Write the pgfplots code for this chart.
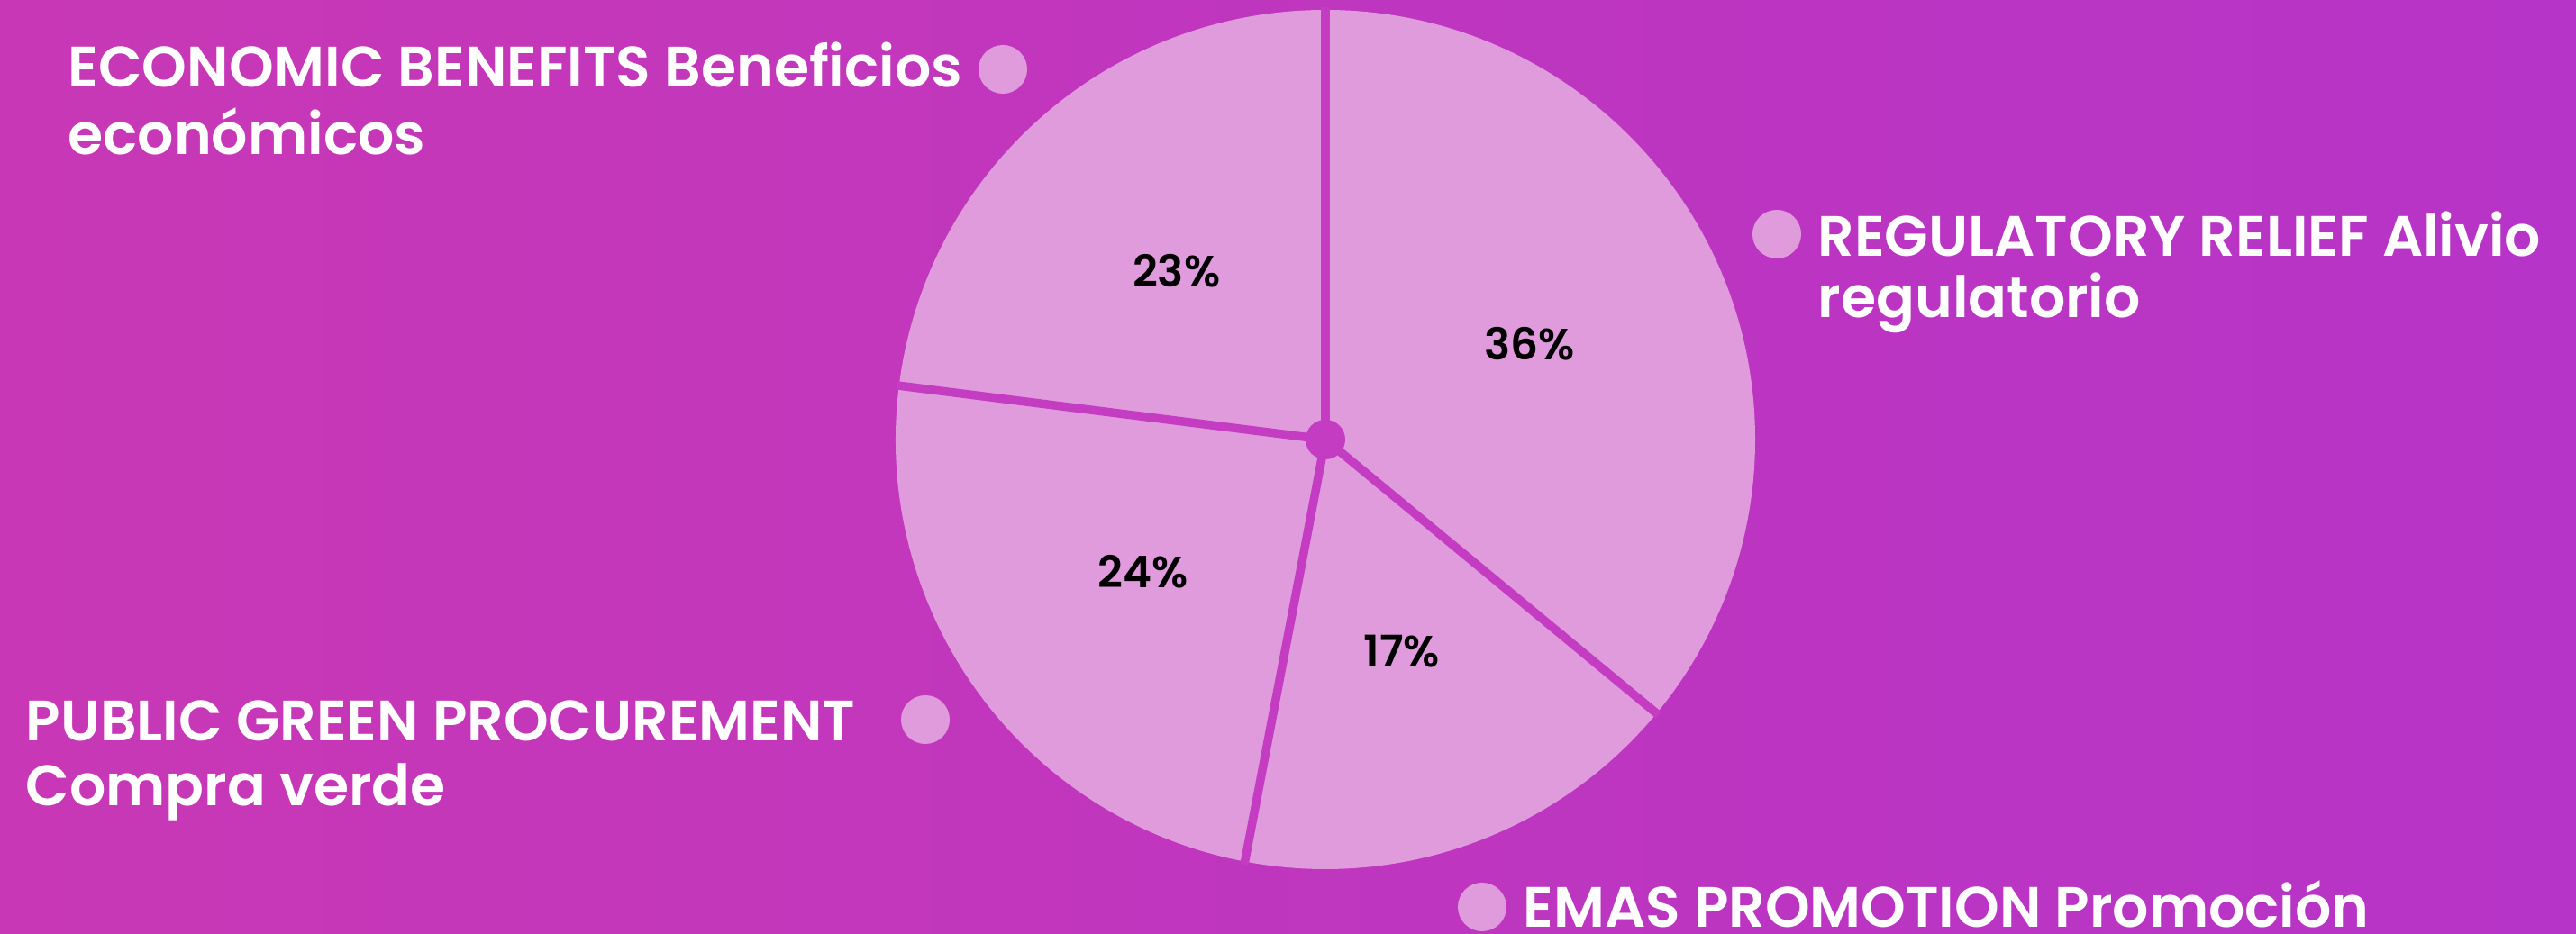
\documentclass[border=0pt]{standalone}
\usepackage{fontspec}
\setmainfont{Poppins SemiBold}
\usepackage{pgfplots}
\pgfplotsset{compat=1.18}
\usepackage{pgfplotstable}

\definecolor{bgL}{HTML}{C838B6}
\definecolor{bgR}{HTML}{B634C7}
\definecolor{slice}{HTML}{E09BDD}
\definecolor{sep}{HTML}{C33CC2}

% shares, clockwise from 12 o'clock
\pgfplotstableread{
share
36
17
24
23
}\piedata

\begin{document}
\begin{tikzpicture}
\begin{axis}[
    scale only axis,
    width=28.59cm, height=10.37cm,
    xmin=0, xmax=2859, ymin=0, ymax=1037,
    hide axis,
    clip=true,
]
% background
\fill[left color=bgL, right color=bgR] (axis cs:0,0) rectangle (axis cs:2859,1037);

% pie slices
\pgfplotstablegetrowsof{\piedata}
\pgfmathtruncatemacro\nrows{\pgfplotsretval-1}
\def\cum{0}
\pgfplotsforeachungrouped \i in {0,...,\nrows}{%
    \pgfplotstablegetelem{\i}{share}\of\piedata
    \let\v\pgfplotsretval
    \pgfmathsetmacro\a{90-3.6*\cum}
    \pgfmathsetmacro\b{90-3.6*(\cum+\v)}
    \pgfmathsetmacro\m{(\a+\b)/2}
    \edef\temp{%
        \noexpand\fill[slice]
            (axis cs:1471,549) -- ++(\a:4.77cm)
            arc[start angle=\a, end angle=\b, radius=4.77cm] -- cycle;
        \noexpand\node[font=\noexpand\fontsize{13.8}{15}\noexpand\selectfont, text=black]
            at ([shift={(\m:2.5cm)}]axis cs:1471,549) {\v\noexpand\%};
    }%
    \temp
    \pgfmathsetmacro\cum{\cum+\v}
}
% slice borders
\def\cum{0}
\pgfplotsforeachungrouped \i in {0,...,\nrows}{%
    \pgfplotstablegetelem{\i}{share}\of\piedata
    \pgfmathsetmacro\a{90-3.6*\cum}
    \edef\temp{%
        \noexpand\draw[sep, line width=0.095cm] (axis cs:1471,549) -- ++(\a:4.8cm);
    }%
    \temp
    \pgfmathsetmacro\cum{\cum+\pgfplotsretval}
}
\fill[sep] (axis cs:1471,549) circle[radius=0.22cm];

% legend dots
\fill[slice] (axis cs:1113,960) circle[radius=0.27cm];
\fill[slice] (axis cs:1972,777) circle[radius=0.27cm];
\fill[slice] (axis cs:1027,238) circle[radius=0.27cm];
\fill[slice] (axis cs:1645,30) circle[radius=0.27cm];

% legend text
\tikzset{lab/.style={anchor=base west, inner sep=0pt, text=white,
    font=\fontsize{18}{21}\selectfont}}
\node[lab] at (axis cs:75,940) {ECONOMIC BENEFITS Beneficios};
\node[lab] at (axis cs:75,865) {económicos};
\node[lab] at (axis cs:2017,752) {REGULATORY RELIEF Alivio};
\node[lab] at (axis cs:2017,684) {regulatorio};
\node[lab] at (axis cs:28,214) {PUBLIC GREEN PROCUREMENT};
\node[lab] at (axis cs:28,142) {Compra verde};
\node[lab] at (axis cs:1690,7) {EMAS PROMOTION Promoción};
\end{axis}
\end{tikzpicture}
\end{document}
